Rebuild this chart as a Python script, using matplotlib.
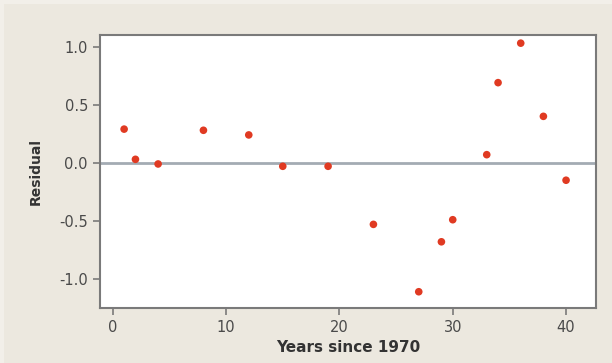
import numpy as np
import matplotlib.pyplot as plt
from matplotlib.patches import Rectangle

# residuals
years = [1, 2, 4, 8, 12, 15, 19, 23, 27, 29, 30, 33, 34, 36, 38, 40]
residual = [0.29, 0.03, -0.01, 0.28, 0.24, -0.03, -0.03, -0.53, -1.11,
            -0.68, -0.49, 0.07, 0.69, 1.03, 0.40, -0.15]
xticks = [0, 10, 20, 30, 40]
yticks = [-1.0, -0.5, 0.0, 0.5, 1.0]

bg = '#ECE8DF'
fig = plt.figure(figsize=(6.12, 3.63), dpi=100, facecolor=bg)
# faint light rim along the left and top edges of the scanned page
fig.patches.append(Rectangle((0, 0), 0.006, 1, transform=fig.transFigure,
                             facecolor='#F2EFE9', edgecolor='none'))
fig.patches.append(Rectangle((0, 0.99), 1, 0.01, transform=fig.transFigure,
                             facecolor='#F2EFE9', edgecolor='none'))

ax = fig.add_axes([0.163, 0.1515, 0.811, 0.752])
ax.set_facecolor('white')

ax.axhline(0, color='#A3ABB3', lw=2, zorder=1)
ax.scatter(years, residual, s=30, color='#E03A22', edgecolors='none', zorder=3)

ax.set_xlim(-1.15, 42.65)
ax.set_ylim(-1.25, 1.10)
ax.set_xticks(xticks)
ax.set_yticks(yticks)
ax.set_yticklabels([f'{v:.1f}' for v in yticks])

for s in ax.spines.values():
    s.set_color('#7A7A7A')
    s.set_linewidth(1.5)
ax.tick_params(direction='out', length=5, width=1.2, color='#7A7A7A',
               labelcolor='#4A4A4A', labelsize=10.5)

ax.set_xlabel('Years since 1970', fontsize=11, fontweight='bold', color='#333333', labelpad=4)
ax.set_ylabel('Residual', fontsize=10, fontweight='bold', color='#333333', labelpad=12)

fig.savefig('out.png', dpi=100, facecolor=bg)
